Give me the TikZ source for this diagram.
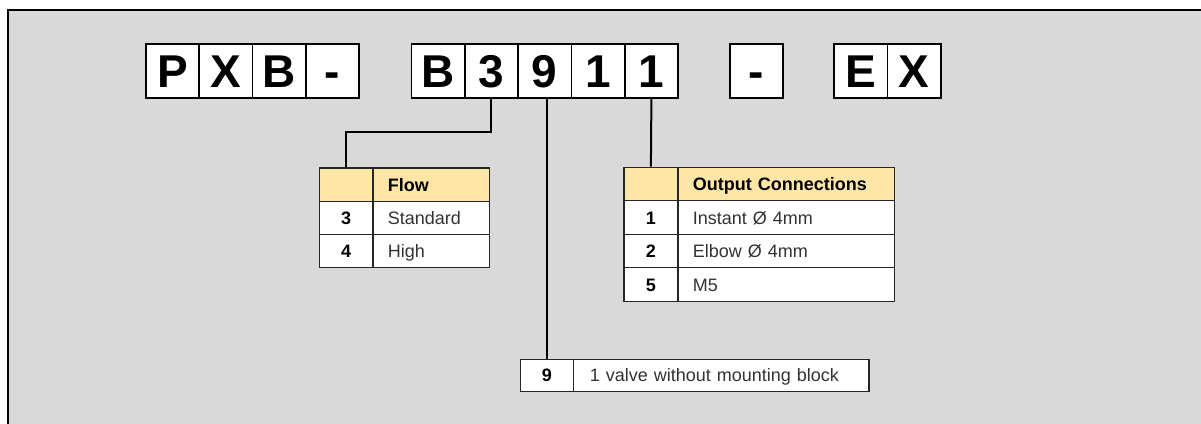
\documentclass[tikz,border=0pt]{standalone}
\usepackage{fontspec}
\setmainfont{Liberation Sans}
\definecolor{bg}{HTML}{D9D9D9}
\definecolor{hdr}{HTML}{FFE6A6}
\definecolor{txt}{HTML}{333333}
\begin{document}
\begin{tikzpicture}[x=1pt,y=-1pt,
  code/.style={draw=black, fill=white, line width=1.5pt, minimum width=53.3pt, minimum height=54pt,
    inner sep=0pt, text height=33pt, text depth=0pt, anchor=north west,
    font=\fontsize{46}{46}\selectfont\bfseries},
  keycell/.style={draw=black!85, line width=1.2pt, fill=white, minimum height=#1, inner sep=0pt,
    text height=13pt, text depth=0pt, anchor=north west, font=\fontsize{18}{18}\selectfont\bfseries},
  keycell/.default=33.3pt,
  valcell/.style={draw=black!85, line width=1.2pt, fill=white, minimum height=33.3pt, inner ysep=0pt,
    inner xsep=15pt, text height=13pt, text depth=0pt, anchor=north west, align=left,
    font=\fontsize{18}{18}\selectfont, text=txt},
  link/.style={line width=2pt, draw=black}
]
\useasboundingbox (0,0) rectangle (1201,423);
\clip (0,0) rectangle (1201,423);
\fill[white] (0,0) rectangle (1201,423);
\draw[fill=bg, line width=1.5pt] (8,10) rectangle (1230,450);

% code boxes
\node[code] (p)  at (145,43.3)   {P};
\node[code] (x)  at (198.3,43.3) {X};
\node[code] (b)  at (251.7,43.3) {B};
\node[code] (d1) at (305,43.3)   {-};
\node[code] (b2) at (410.7,43.3) {B};
\node[code] (c3) at (464,43.3)   {3};
\node[code] (c9) at (517.3,43.3) {9};
\node[code] (c1) at (570.7,43.3) {1};
\node[code] (c1b) at (624,43.3)  {1};
\node[code] (d2) at (729,43.3)   {-};
\node[code] (e)  at (833.3,43.3) {E};
\node[code] (xx) at (886.7,43.3) {X};

% Flow table
\node[keycell, fill=hdr, minimum width=53.3pt] (fk0) at (319,167.3) {};
\node[valcell, fill=hdr, text width=86.7pt, font=\fontsize{18}{18}\selectfont\bfseries, text=black] (fv0) at (372.3,167.3) {Flow};
\node[keycell, minimum width=53.3pt] (fk1) at (319,200.6) {3};
\node[valcell, text width=86.7pt] (fv1) at (372.3,200.6) {Standard};
\node[keycell, minimum width=53.3pt] (fk2) at (319,233.9) {4};
\node[valcell, text width=86.7pt] (fv2) at (372.3,233.9) {High};

% Output table
\node[keycell, fill=hdr, minimum width=54pt] (ok0) at (623.3,166.7) {};
\node[valcell, fill=hdr, text width=186.4pt, font=\fontsize{18}{18}\selectfont\bfseries, text=black] (ov0) at (677.3,166.7) {Output Connections};
\node[keycell, minimum width=54pt, minimum height=33.5pt] (ok1) at (623.3,200.2) {1};
\node[valcell, text width=186.4pt, minimum height=33.5pt] (ov1) at (677.3,200.2) {Instant Ø 4mm};
\node[keycell, minimum width=54pt, minimum height=33.5pt] (ok2) at (623.3,233.7) {2};
\node[valcell, text width=186.4pt, minimum height=33.5pt] (ov2) at (677.3,233.7) {Elbow Ø 4mm};
\node[keycell, minimum width=54pt, minimum height=33.5pt] (ok3) at (623.3,267.2) {5};
\node[valcell, text width=186.4pt, minimum height=33.5pt] (ov3) at (677.3,267.2) {M5};

% Nine table
\node[keycell, minimum width=52.7pt, minimum height=31.7pt] (nk) at (520,359) {9};
\node[valcell, minimum height=31.7pt, inner xsep=16.6pt, text width=262.4pt] (nv) at (572.7,359) {1 valve without mounting block};

% connectors
\draw[link] (c3.south) -- ++(0,32.7) -| (fk0.north);
\draw[link] (nk.north) -- (nk.north |- c9.south);
\draw[link] (c1b.south) -- (ok0.north);
\end{tikzpicture}
\end{document}
